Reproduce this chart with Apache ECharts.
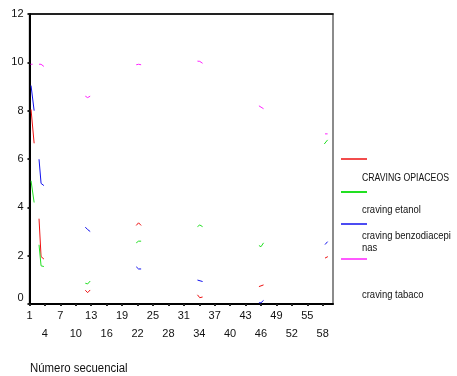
<!DOCTYPE html>
<html>
<head>
<meta charset="utf-8">
<script src="https://cdn.jsdelivr.net/npm/echarts@6/dist/echarts.min.js"></script>
<style>
  html, body { margin: 0; padding: 0; background: #fff; }
  #chart { width: 457px; height: 376px; }
</style>
</head>
<body>
<div id="chart"></div>
<script>
// Sequential case numbers along the horizontal axis
const caseNumbers = [];
for (let i = 1; i <= 60; i++) caseNumbers.push(String(i));

// Vertical axis range
const yTicks = [0, 2, 4, 6, 8, 10, 12];

// Series names
const seriesNames = ['CRAVING OPIACEOS', 'craving etanol', 'craving benzodiacepinas', 'craving tabaco'];
const seriesColors = ['#ee1111', '#22e022', '#1111ee', '#ff22ff'];

// [Número secuencial, craving]; '-' marks a break between measured stretches
const opiaceos = [
  [1.3, 8.05], [1.9, 6.65], [2.3, '-'],
  [2.85, 3.53], [3.25, 1.96], [3.8, 1.86], [4.3, '-'],
  [11.85, 0.57], [12.3, 0.47], [12.8, 0.58], [13.3, '-'],
  [21.75, 3.25], [22.2, 3.36], [22.7, 3.25], [23.2, '-'],
  [33.65, 0.38], [34.1, 0.26], [34.65, 0.29], [35.1, '-'],
  [45.6, 0.72], [46.5, 0.79], [47.0, '-'],
  [58.45, 1.9], [59.0, 1.96]
];
const etanol = [
  [1.3, 5.1], [1.9, 4.2], [2.3, '-'],
  [2.85, 2.45], [3.25, 1.58], [3.8, 1.55], [4.3, '-'],
  [11.85, 0.86], [12.3, 0.83], [12.8, 0.95], [13.3, '-'],
  [21.75, 2.53], [22.2, 2.6], [22.7, 2.6], [23.2, '-'],
  [33.65, 3.2], [34.1, 3.27], [34.65, 3.2], [35.1, '-'],
  [45.6, 2.42], [46.0, 2.37], [46.5, 2.53], [47.0, '-'],
  [58.3, 6.62], [58.95, 6.79]
];
const benzodiacepinas = [
  [1.3, 9.04], [1.9, 8.0], [2.3, '-'],
  [2.85, 5.99], [3.25, 4.99], [3.8, 4.9], [4.3, '-'],
  [11.85, 3.18], [12.3, 3.08], [12.8, 3.0], [13.3, '-'],
  [21.75, 1.54], [22.2, 1.45], [22.7, 1.45], [23.2, '-'],
  [33.65, 0.99], [34.65, 0.93], [35.1, '-'],
  [45.6, 0.05], [46.0, 0.05], [46.5, 0.15], [47.0, '-'],
  [58.45, 2.46], [58.95, 2.58]
];
const tabaco = [
  [1.2, 9.92], [1.6, 9.92], [2.3, '-'],
  [2.85, 9.92], [3.25, 9.92], [3.8, 9.83], [4.3, '-'],
  [11.85, 8.6], [12.3, 8.54], [12.8, 8.6], [13.3, '-'],
  [21.75, 9.9], [22.2, 9.92], [22.7, 9.9], [23.2, '-'],
  [33.65, 10.05], [34.1, 10.04], [34.65, 9.96], [35.1, '-'],
  [45.6, 8.2], [46.5, 8.08], [47.0, '-'],
  [58.45, 7.04], [58.95, 7.04]
];

const seriesData = [opiaceos, etanol, benzodiacepinas, tabaco];

const FONT = "'Liberation Sans', Arial, Helvetica, sans-serif";

const chart = echarts.init(document.getElementById('chart'), null, { renderer: 'canvas' });

// Legend drawn SPSS style: colour sample above each name
const legendLines = [159, 192, 224, 259];
const legendGraphics = [];
seriesColors.forEach((c, i) => {
  legendGraphics.push({
    type: 'line', silent: true,
    shape: { x1: 341, y1: legendLines[i], x2: 367, y2: legendLines[i] },
    style: { stroke: c, lineWidth: i === 1 ? 2 : 1.5 }
  });
});
// [text, baseline centre, horizontal squeeze]
const legendTexts = [
  ['CRAVING OPIACEOS', 178, 0.83],
  ['craving etanol', 210.5, 0.9],
  ['craving benzodiacepi', 236, 0.9],
  ['nas', 248.5, 0.9],
  ['craving tabaco', 295, 0.9]
];
legendTexts.forEach(([t, y, sx]) => {
  legendGraphics.push({
    type: 'text', silent: true, x: 362, y: y, scaleX: sx,
    style: { text: t, fill: '#111', font: '10.5px ' + FONT, textVerticalAlign: 'middle' }
  });
});

chart.setOption({
  animation: false,
  backgroundColor: '#ffffff',
  grid: {
    left: 29.5, right: 124, top: 14, bottom: 72,
    show: true, borderColor: '#666', borderWidth: 1.5, backgroundColor: 'transparent'
  },
  xAxis: [
    {
      type: 'category',
      data: caseNumbers,
      boundaryGap: false,
      axisLine: { lineStyle: { color: '#000', width: 2 } },
      axisTick: { interval: 2, length: 2, lineStyle: { color: '#222', width: 2 } },
      axisLabel: {
        interval: 2, margin: 6, color: '#111', fontSize: 11, fontFamily: FONT,
        formatter: (v, idx) => (idx % 6 === 0 ? '{a|' + v + '}' : '{b|' + v + '}'),
        rich: {
          a: { fontSize: 11, fontFamily: FONT, color: '#111' },
          b: { fontSize: 11, fontFamily: FONT, color: '#111', padding: [18, 0, 0, 0] }
        }
      },
      splitLine: { show: false }
    },
    {
      type: 'value',
      position: 'top',
      min: 1, max: 60,
      axisLine: { show: true, onZero: false, lineStyle: { color: '#000', width: 1.5 } },
      axisTick: { show: false },
      axisLabel: { show: false },
      splitLine: { show: false }
    }
  ],
  yAxis: {
    type: 'value',
    min: yTicks[0], max: yTicks[yTicks.length - 1], interval: 2,
    axisLine: { show: true, lineStyle: { color: '#000', width: 2 } },
    axisTick: { show: true, length: 2, lineStyle: { color: '#222', width: 2 } },
    axisLabel: {
      margin: 6, color: '#111', fontSize: 11, fontFamily: FONT,
      formatter: v => (v === 0 ? '{z|0}' : String(v)),
      rich: { z: { fontSize: 11, fontFamily: FONT, color: '#111', padding: [0, 0, 12, 0] } }
    },
    splitLine: { show: false }
  },
  graphic: [
    ...legendGraphics,
    {
      type: 'text', silent: true, x: 30, y: 369, scaleX: 0.95,
      style: { text: 'Número secuencial', fill: '#111', font: '12px ' + FONT, textVerticalAlign: 'middle' }
    }
  ],
  series: seriesData.map((d, i) => ({
    name: seriesNames[i],
    type: 'line',
    xAxisIndex: 1,
    data: d,
    showSymbol: false,
    connectNulls: false,
    clip: true,
    lineStyle: { color: seriesColors[i], width: 1 },
    itemStyle: { color: seriesColors[i] }
  }))
});
</script>
</body>
</html>
